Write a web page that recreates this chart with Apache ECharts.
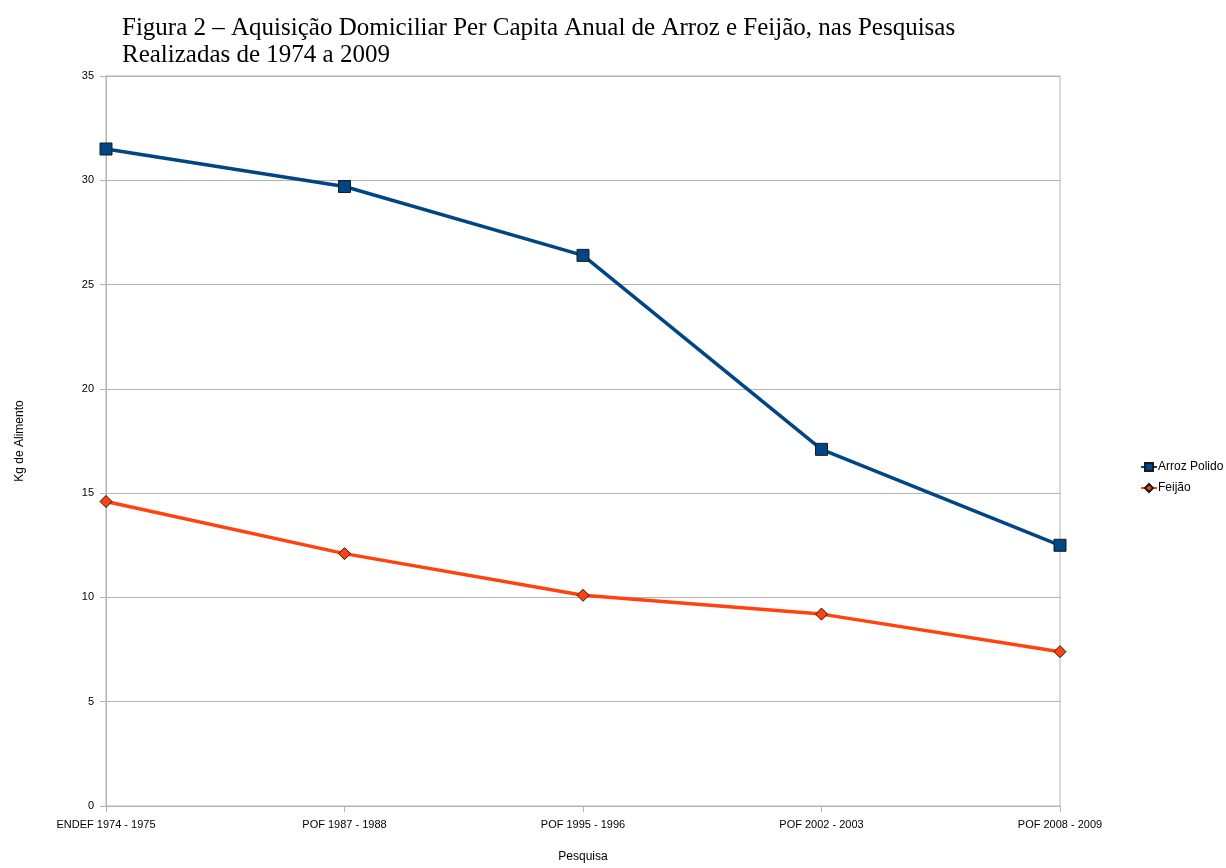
<!DOCTYPE html>
<html>
<head>
<meta charset="utf-8">
<script src="https://cdn.jsdelivr.net/npm/echarts@6/dist/echarts.min.js"></script>
<style>
  html, body { margin: 0; padding: 0; background: #fff; overflow: hidden; }
  #chart { width: 1226px; height: 868px; }
</style>
</head>
<body>
<div id="chart"></div>
<script>
// Survey periods (x axis)
const pesquisas = ['ENDEF 1974 - 1975', 'POF 1987 - 1988', 'POF 1995 - 1996', 'POF 2002 - 2003', 'POF 2008 - 2009'];
// Annual per capita household acquisition, kg
const arrozPolido = [31.5, 29.7, 26.4, 17.1, 12.5];
const feijao = [14.6, 12.1, 10.1, 9.2, 7.4];
// Y axis range
const yMin = 0, yMax = 35, yStep = 5;

const chart = echarts.init(document.getElementById('chart'), null, { renderer: 'canvas' });
const gridColor = '#b3b3b3';
const labelFont = { fontFamily: 'Liberation Sans, Arial, sans-serif', fontSize: 11, color: '#000' };

chart.setOption({
  animation: false,
  backgroundColor: '#fff',
  title: {
    text: 'Figura 2 – Aquisição Domiciliar Per Capita Anual de Arroz e Feijão, nas Pesquisas\nRealizadas de 1974 a 2009',
    left: 117, top: 10,
    textStyle: { fontFamily: 'Liberation Serif, Times New Roman, serif', fontSize: 25, fontWeight: 'normal', color: '#000', lineHeight: 27 }
  },
  grid: {
    left: 106, right: 166, top: 76, bottom: 58, containLabel: false,
    show: true, borderColor: gridColor, borderWidth: 1, backgroundColor: 'transparent'
  },
  legend: {
    orient: 'vertical', left: 1135, top: 456, itemGap: 9,
    itemWidth: 16, itemHeight: 10,
    textStyle: { ...labelFont, fontSize: 12, padding: [0, 0, 0, -4] },
    data: ['Arroz Polido', 'Feijão']
  },
  xAxis: {
    type: 'category', data: pesquisas, boundaryGap: false,
    name: 'Pesquisa', nameLocation: 'middle', nameGap: 45,
    nameTextStyle: { ...labelFont, fontSize: 12 },
    axisLine: { lineStyle: { color: gridColor } },
    axisTick: { show: true, length: 6, lineStyle: { color: gridColor } },
    axisLabel: { ...labelFont, margin: 13 },
    splitLine: { show: false }
  },
  yAxis: {
    type: 'value', min: yMin, max: yMax, interval: yStep,
    name: 'Kg de Alimento', nameLocation: 'middle', nameGap: 80, nameRotate: 90,
    nameTextStyle: { ...labelFont, fontSize: 12 },
    axisLine: { show: true, lineStyle: { color: gridColor } },
    axisTick: { show: true, length: 6, lineStyle: { color: gridColor } },
    axisLabel: { ...labelFont, margin: 12 },
    splitLine: { show: true, lineStyle: { color: gridColor, width: 1 } }
  },
  series: [
    {
      name: 'Arroz Polido', type: 'line', data: arrozPolido,
      symbol: 'rect', symbolSize: 12, showAllSymbol: true,
      lineStyle: { color: '#004586', width: 3.5 },
      itemStyle: { color: '#004586', borderColor: '#1a1a1a', borderWidth: 1 },
      z: 3
    },
    {
      name: 'Feijão', type: 'line', data: feijao,
      symbol: 'diamond', symbolSize: 12, showAllSymbol: true,
      lineStyle: { color: '#ff420e', width: 3.5 },
      itemStyle: { color: '#ff420e', borderColor: '#1a1a1a', borderWidth: 1 },
      z: 2
    }
  ]
});
</script>
</body>
</html>
